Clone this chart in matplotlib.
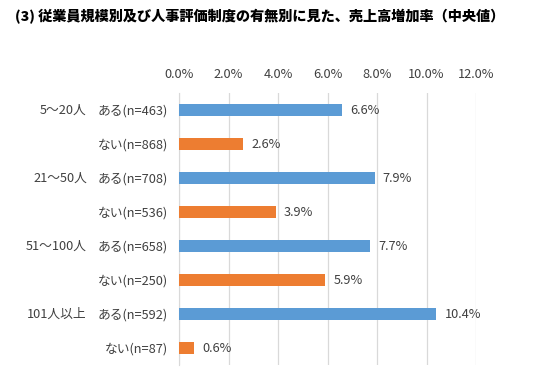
import matplotlib.pyplot as plt
from matplotlib.transforms import blended_transform_factory

plt.rcParams['font.family'] = ['Noto Sans CJK JP', 'DejaVu Sans']

# データ
groups = ['5～20人', '21～50人', '51～100人', '101人以上']
sub_labels = ['ある(n=463)', 'ない(n=868)', 'ある(n=708)', 'ない(n=536)',
              'ある(n=658)', 'ない(n=250)', 'ある(n=592)', 'ない(n=87)']
values = [6.6, 2.6, 7.9, 3.9, 7.7, 5.9, 10.4, 0.6]
xticks = [0, 2, 4, 6, 8, 10, 12]

BLUE = '#5B9BD5'
ORANGE = '#ED7D31'
colors = [BLUE if i % 2 == 0 else ORANGE for i in range(len(values))]

fig = plt.figure(figsize=(5.37, 3.73), dpi=100)
ax = fig.add_axes([179 / 537, 1 - 365 / 373, (476 - 179) / 537, (365 - 93) / 373])

ypos = list(range(len(values)))
ax.barh(ypos, values, height=0.36, color=colors, zorder=3)

for y, v in zip(ypos, values):
    ax.annotate(f'{v:.1f}%', (v, y), xytext=(6, 0), textcoords='offset points',
                va='center', ha='left', fontsize=9.2, color='#404040')

ax.set_xlim(0, 12)
ax.set_ylim(len(values) - 0.5, -0.5)
ax.set_xticks(xticks)
ax.set_xticklabels([f'{t:.1f}%' for t in xticks], fontsize=9.2, color='#404040')
ax.xaxis.tick_top()
ax.tick_params(axis='x', length=0, pad=9)
ax.set_yticks(ypos)
ax.set_yticklabels(sub_labels, fontsize=9.2, color='#404040')
ax.tick_params(axis='y', length=0, pad=8)

ax.grid(axis='x', color='#D9D9D9', linewidth=0.9, zorder=0)
for s in ['top', 'right', 'bottom']:
    ax.spines[s].set_visible(False)
ax.spines['left'].set_color('#D9D9D9')

# 規模ラベル
trans = blended_transform_factory(ax.transAxes, ax.transData)
for i, g in enumerate(groups):
    ax.text(-0.31, i * 2, g, transform=trans, ha='right', va='center',
            fontsize=9.2, color='#404040')

fig.text(15 / 537, 1 - 17 / 373, '(3) 従業員規模別及び人事評価制度の有無別に見た、売上高増加率（中央値）',
         ha='left', va='center', fontsize=10.2, fontweight='black')

fig.savefig('out.png', dpi=100)
